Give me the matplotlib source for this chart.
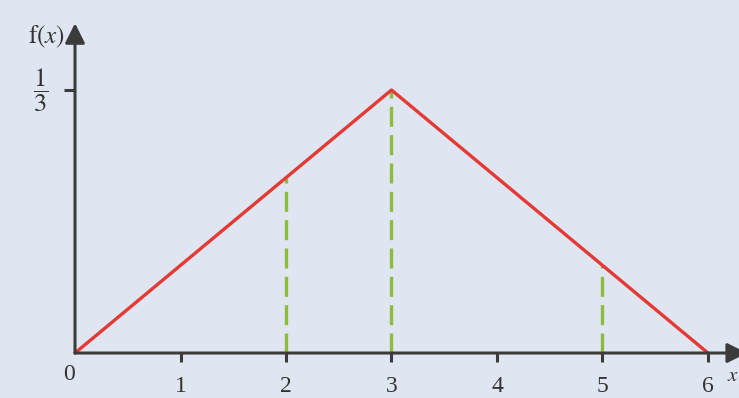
import matplotlib.pyplot as plt

plt.rcParams["mathtext.fontset"] = "stix"
plt.rcParams["font.family"] = ["Liberation Serif", "DejaVu Serif"]

# triangular distribution f(x): rises from 0 to 1/3 at x=3, back to 0 at x=6
line_x = [0, 3, 6]
line_y = [0, 1 / 3, 0]
drop_x = [2, 3, 5]
drop_y = [2 / 9, 1 / 3, 1 / 9]
xticks = [1, 2, 3, 4, 5, 6]

bg = "#dfe6f1"
axis_col = "#3b3b3b"

fig = plt.figure(figsize=(7.39, 3.98), dpi=100, facecolor=bg)
ax = fig.add_axes([0, 0, 1, 1])
ax.set_facecolor(bg)
ax.set_xlim(-0.711, 6.294)
ax.set_ylim(-0.057, 0.4474)
ax.axis("off")

# axes with arrowheads
ax.annotate("", xy=(0, 0.418), xytext=(0, 0), annotation_clip=False,
            arrowprops=dict(arrowstyle="-|>", mutation_scale=30, lw=2.2,
                            color=axis_col, shrinkA=0, shrinkB=0))
ax.annotate("", xy=(6.37, 0), xytext=(0, 0), annotation_clip=False,
            arrowprops=dict(arrowstyle="-|>", mutation_scale=30, lw=2.2,
                            color=axis_col, shrinkA=0, shrinkB=0))

# ticks
for t in xticks:
    ax.plot([t, t], [0, -0.012], color=axis_col, lw=2.2, solid_capstyle="butt")
    ax.text(t, -0.043, str(t), ha="center", va="center", fontsize=17, color="#333")
ax.text(-0.06, -0.027, "0", ha="center", va="center", fontsize=17, color="#333")
ax.plot([-0.1, 0], [1 / 3, 1 / 3], color=axis_col, lw=2.2, solid_capstyle="butt")
ax.text(-0.33, 1 / 3, r"$\dfrac{1}{3}$", ha="center", va="center", fontsize=19, color="#333")
ax.text(-0.1, 0.401, r"$\mathrm{f}(x)$", ha="right", va="center", fontsize=18, color="#333")
ax.text(6.24, -0.03, r"$x$", ha="center", va="center", fontsize=15, color="#333")

# dashed drop lines
for xv, yv in zip(drop_x, drop_y):
    ax.plot([xv, xv], [0, yv], color="#8dbb3c", lw=2.4, dashes=(6, 2.5))

ax.plot(line_x, line_y, color="#e53935", lw=2.4, solid_capstyle="round")

fig.savefig("out.png", dpi=100, facecolor=bg)
